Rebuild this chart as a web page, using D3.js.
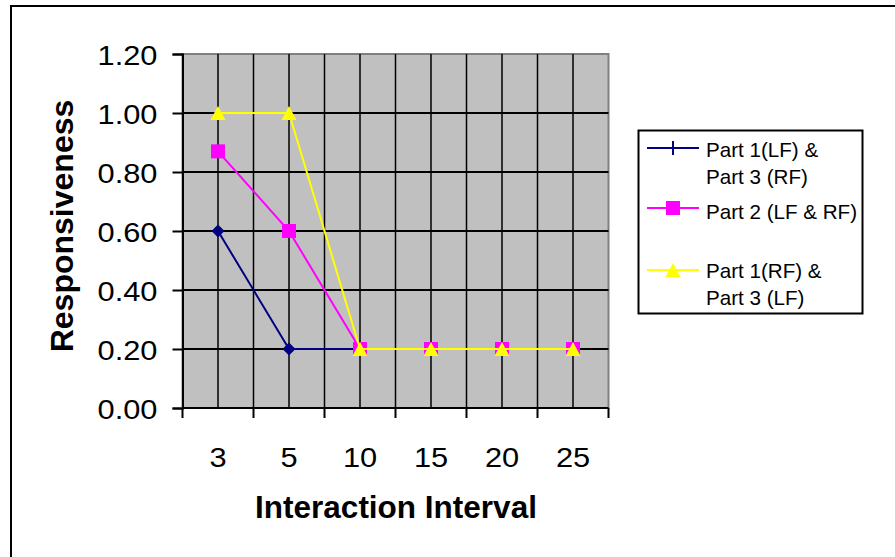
<!DOCTYPE html>
<html>
<head>
<meta charset="utf-8">
<script src="https://cdn.jsdelivr.net/npm/d3@7"></script>
<style>
  html, body { margin: 0; padding: 0; background: #fff; }
  svg { display: block; font-family: "Liberation Sans", Arial, sans-serif; }
</style>
</head>
<body>
<svg id="chart" width="895" height="557"></svg>
<script>
const categories = ["3", "5", "10", "15", "20", "25"];
const yTicks = [0, 0.2, 0.4, 0.6, 0.8, 1.0, 1.2];
const seriesNames = ["Part 1(LF) & Part 3 (RF)", "Part 2 (LF & RF)", "Part 1(RF) & Part 3 (LF)"];
const legendLines = [["Part 1(LF) &", "Part 3 (RF)"], ["Part 2 (LF & RF)"], ["Part 1(RF) &", "Part 3 (LF)"]];
const series1 = [0.60, 0.20, 0.20, 0.20, 0.20, 0.20];
const series2 = [0.87, 0.60, 0.20, 0.20, 0.20, 0.20];
const series3 = [1.00, 1.00, 0.20, 0.20, 0.20, 0.20];
const colors = ["#000080", "#FF00FF", "#FFFF00"];
const shapes = ["diamond", "square", "triangle"];

const svg = d3.select("#chart");
const plot = { left: 182.5, right: 608.5, top: 54, bottom: 408 };

const x = d3.scaleBand().domain(categories).range([plot.left, plot.right]).padding(0);
const y = d3.scaleLinear().domain([0, 1.2]).range([plot.bottom, plot.top]);
const cx = c => x(c) + x.bandwidth() / 2;

// outer frame (top and left edges visible)
svg.append("line").attr("x1", 10).attr("x2", 895).attr("y1", 6).attr("y2", 6).attr("stroke", "#000").attr("stroke-width", 2);
svg.append("line").attr("x1", 11).attr("x2", 11).attr("y1", 5).attr("y2", 557).attr("stroke", "#000").attr("stroke-width", 2);

// plot area
svg.append("rect").attr("x", plot.left).attr("y", plot.top)
  .attr("width", plot.right - plot.left).attr("height", plot.bottom - plot.top)
  .attr("fill", "#C0C0C0").attr("stroke", "#808080").attr("stroke-width", 2);

// horizontal gridlines
svg.append("g").selectAll("line").data(yTicks.filter(t => t > 0 && t < 1.2)).join("line")
  .attr("x1", plot.left).attr("x2", plot.right)
  .attr("y1", d => y(d)).attr("y2", d => y(d))
  .attr("stroke", "#000").attr("stroke-width", 2);

// vertical gridlines: category boundaries and centres
const vgrid = [];
categories.forEach((c, i) => { if (i > 0) vgrid.push(x(c)); vgrid.push(cx(c)); });
svg.append("g").selectAll("line").data(vgrid).join("line")
  .attr("x1", d => d).attr("x2", d => d)
  .attr("y1", plot.top).attr("y2", plot.bottom)
  .attr("stroke", "#000").attr("stroke-width", 1.5);

// Y axis
const yAxis = d3.axisLeft(y).tickValues(yTicks).tickFormat(d3.format(".2f")).tickSize(10).tickPadding(15);
const gy = svg.append("g").attr("transform", `translate(${plot.left},0)`).call(yAxis);
gy.select(".domain").attr("stroke", "#000").attr("stroke-width", 2);
gy.selectAll(".tick line").attr("stroke", "#000").attr("stroke-width", 2);
gy.selectAll(".tick text")
  .attr("x", null).attr("dy", "0.36em")
  .attr("transform", "translate(-25,0) scale(1.1,1)")
  .attr("font-size", 28).attr("fill", "#000")
  .attr("font-family", "'Liberation Sans', Arial, sans-serif");

// X axis
const gx = svg.append("g").attr("transform", `translate(0,${plot.bottom})`);
gx.append("line").attr("x1", plot.left).attr("x2", plot.right).attr("y1", 0).attr("y2", 0)
  .attr("stroke", "#000").attr("stroke-width", 2);
const xBounds = categories.map(c => x(c)).concat([plot.right]);
gx.selectAll("line.tk").data(xBounds).join("line").attr("class", "tk")
  .attr("x1", d => d).attr("x2", d => d).attr("y1", 0).attr("y2", 10)
  .attr("stroke", "#000").attr("stroke-width", 2);
gx.selectAll("text").data(categories).join("text")
  .attr("transform", d => `translate(${cx(d)},59) scale(1.1,1)`)
  .attr("text-anchor", "middle").attr("font-size", 28).attr("fill", "#000")
  .text(d => d);

// axis titles
svg.append("text").attr("x", 396).attr("y", 518).attr("text-anchor", "middle")
  .attr("font-size", 31.5).attr("font-weight", "bold").text("Interaction Interval");
svg.append("text").attr("transform", "translate(73,226) rotate(-90)").attr("text-anchor", "middle")
  .attr("font-size", 32).attr("font-weight", "bold").text("Responsiveness");

// markers
function marker(g, shape, color, px, py, legend) {
  if (shape === "diamond") {
    if (legend) {
      g.append("line").attr("x1", px).attr("x2", px).attr("y1", py - 7).attr("y2", py + 7)
        .attr("stroke", color).attr("stroke-width", 2);
    } else {
      g.append("path").attr("d", `M${px},${py - 6.5}L${px + 6.5},${py}L${px},${py + 6.5}L${px - 6.5},${py}Z`).attr("fill", color);
    }
  } else if (shape === "square") {
    g.append("rect").attr("x", px - 7).attr("y", py - 7).attr("width", 14).attr("height", 14).attr("fill", color);
  } else {
    g.append("path").attr("d", `M${px},${py - 7}L${px + 7.5},${py + 7}L${px - 7.5},${py + 7}Z`).attr("fill", color);
  }
}

const allSeries = [series1, series2, series3];
const line = d3.line().x((d, i) => cx(categories[i])).y(d => y(d));
allSeries.forEach((vals, si) => {
  const g = svg.append("g");
  g.append("path").datum(vals).attr("d", line).attr("fill", "none")
    .attr("stroke", colors[si]).attr("stroke-width", 2);
  vals.forEach((v, i) => marker(g, shapes[si], colors[si], cx(categories[i]), y(v), false));
});

// legend
const lg = svg.append("g");
lg.append("rect").attr("x", 638.5).attr("y", 130.5).attr("width", 224).attr("height", 183)
  .attr("fill", "#fff").attr("stroke", "#000").attr("stroke-width", 2);
const legendY = [148, 208, 270];
const textY = [[157, 184], [219], [278, 305]];
seriesNames.forEach((name, si) => {
  const g = lg.append("g");
  g.append("line").attr("x1", 647).attr("x2", 699).attr("y1", legendY[si]).attr("y2", legendY[si])
    .attr("stroke", colors[si]).attr("stroke-width", 2);
  marker(g, shapes[si], colors[si], 673, legendY[si], true);
  legendLines[si].forEach((t, j) => {
    g.append("text").attr("x", 706).attr("y", textY[si][j]).attr("font-size", 20.6).attr("fill", "#000").text(t);
  });
});
</script>
</body>
</html>
